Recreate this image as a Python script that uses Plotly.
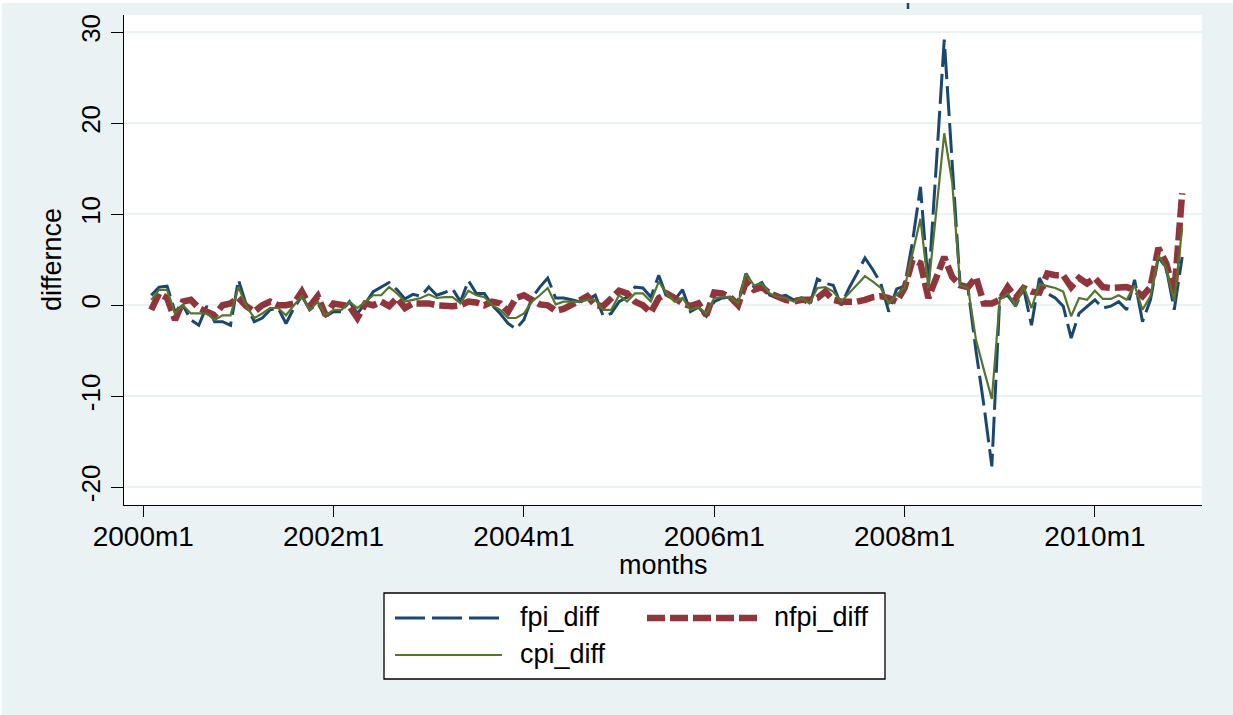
import plotly.graph_objects as go

# Monthly differences, 2000m2 .. 2010m12 (Stata %tm: 2000m1 = 480)
start_tm = 481
fpi_diff = [
    1.1, 2.0, 2.1, -0.7, 0.0, -1.6, -2.2, -0.1, -1.8, -1.8, -2.2,
    2.8, 0.0, -1.8, -1.4, -0.5, -0.3, -2.0, -0.3, 1.0, -0.5, 0.2, -1.2,
    -0.7, -0.7, 0.4, -0.9, 0.2, 1.5, 2.0, 2.5, 1.7, 0.7, 1.2, 1.0,
    2.0, 1.1, 1.4, 1.8, 0.4, 2.7, 1.3, 1.3, 0.0, -0.9, -2.0, -2.6,
    -1.6, 0.8, 2.0, 3.0, 0.8, 0.8, 0.6, 0.4, 0.6, 1.1, -1.2, -0.9,
    0.4, 0.9, 2.0, 1.9, 0.9, 3.3, 0.9, 0.6, 1.7, -0.7, -0.2, -1.2,
    0.4, 0.8, 0.9, 0.2, 3.5, 2.0, 2.5, 1.1, 0.9, 1.1, 0.6, 0.8,
    -0.1, 2.9, 2.4, 2.2, 0.0, 1.9, 3.5, 5.2, 3.9, 2.4, -0.7, 1.8,
    2.1, 7.0, 13.0, 2.1, 15.5, 29.2, 15.6, 2.2, 1.8, -5.0, -11.0, -17.7,
    0.8, 1.1, -0.1, 1.9, -2.2, 3.0, 1.3, 0.8, -0.1, -3.6, -0.9, -0.1,
    0.6, -0.3, -0.1, 0.4, -0.5, 2.8, -1.8, 0.6, 5.3, 4.1, -0.5, 5.3,
]
nfpi_diff = [
    -0.5, 1.3, 0.8, -1.6, 0.4, 0.6, -0.3, -0.7, -1.1, 0.0, 0.2,
    0.8, -0.1, -0.7, 0.0, 0.4, 0.0, 0.0, 0.2, 1.5, -0.1, 1.0, -1.1,
    0.2, 0.0, -0.1, -1.4, 0.2, 0.0, 0.4, -0.1, 0.8, -0.3, 0.2, 0.2,
    0.2, 0.0, -0.1, -0.1, 0.0, 0.4, 0.3, 0.0, 0.4, 0.2, -0.7, 0.8,
    1.1, 0.5, 0.1, 0.0, -0.6, -0.4, 0.0, 0.5, 1.0, 0.0, -0.1, 0.8,
    1.6, 1.3, 0.4, 0.0, -0.8, 0.8, 1.3, 0.8, 0.2, -0.1, 0.2, -1.1,
    1.4, 1.3, 0.9, 0.0, 2.6, 1.7, 2.0, 1.3, 0.9, 0.6, 0.4, 0.6,
    0.6, 0.8, 1.5, 0.6, 0.4, 0.4, 0.4, 0.6, 0.9, 1.0, 0.8, 0.4,
    1.9, 5.0, 4.6, 0.8, 3.2, 5.3, 3.1, 2.2, 2.0, 3.1, 0.2, 0.2,
    0.6, 2.0, 0.8, 1.9, 1.5, 1.4, 3.5, 3.3, 3.3, 2.0, 3.0, 2.4,
    3.0, 2.0, 1.9, 1.9, 2.0, 1.7, 1.0, 2.0, 6.3, 4.6, 1.3, 12.3,
]
cpi_diff = [
    0.6, 1.7, 1.7, -0.9, 0.0, -0.9, -0.9, -0.9, -1.6, -1.1, -1.1,
    2.0, -0.1, -1.4, -0.9, -0.3, -0.3, -1.1, 0.0, 1.0, -0.5, 0.4, -1.1,
    -0.5, -0.5, 0.4, -0.3, 0.4, 1.1, 1.1, 2.0, 1.3, 0.4, 0.6, 0.8,
    1.2, 0.8, 0.9, 0.9, 0.2, 1.6, 1.1, 0.9, 0.0, -0.5, -1.4, -1.4,
    -0.9, 0.4, 1.1, 1.9, 0.1, 0.4, 0.4, 0.4, 0.6, 0.6, -0.5, -0.5,
    1.1, 0.4, 1.3, 1.3, 0.4, 2.6, 1.3, 0.4, 0.8, -0.5, -0.2, -0.9,
    0.8, 0.9, 0.9, 0.2, 3.5, 2.2, 2.4, 1.3, 0.9, 0.8, 0.4, 0.8,
    0.2, 1.9, 2.0, 1.5, 0.4, 1.3, 2.2, 3.2, 2.6, 1.9, 0.2, 1.2,
    1.9, 5.7, 9.5, 1.9, 10.5, 18.9, 13.5, 2.2, 1.9, -3.8, -7.1, -10.3,
    0.6, 1.3, -0.1, 2.1, -0.3, 2.3, 2.1, 1.9, 1.5, -1.2, 0.8, 0.6,
    1.6, 0.7, 0.7, 1.1, 0.6, 2.2, -0.5, 1.0, 5.5, 4.1, 0.4, 8.5,
]

months_tm = list(range(start_tm, start_tm + len(fpi_diff)))
month_labels = [f"{1960 + m // 12}m{m % 12 + 1}" for m in months_tm]

x_tickvals = [480, 504, 528, 552, 576, 600]
x_ticktext = ["2000m1", "2002m1", "2004m1", "2006m1", "2008m1", "2010m1"]
y_tickvals = [-20, -10, 0, 10, 20, 30]
y_ticktext = ["-20", "-10", "0", "10", "20", "30"]

NAVY = "#1A476F"
MAROON = "#90353B"
FOREST = "#55752F"
BG = "#EAF2F3"
FONT = "Liberation Sans, Arial, sans-serif"

W, H = 1233, 715
L, R, T, B = 124, 1202, 15, 505   # plot area in pixels


def px(xp):
    return (xp - L) / (R - L)


def py(yp):
    return (B - yp) / (B - T)


series = [
    ("fpi_diff", fpi_diff, dict(color=NAVY, width=3, dash="30px,7px")),
    ("nfpi_diff", nfpi_diff, dict(color=MAROON, width=6.5, dash="18px,5px")),
    ("cpi_diff", cpi_diff, dict(color=FOREST, width=2.2)),
]

fig = go.Figure()
for name, vals, line in series:
    fig.add_trace(go.Scatter(
        x=months_tm, y=vals, mode="lines", name=name, line=line,
        customdata=month_labels,
        hovertemplate="%{customdata}: %{y}<extra>" + name + "</extra>",
        showlegend=False,
    ))

shapes = [
    # thin white frame along the top and left page edges
    dict(type="rect", xref="paper", yref="paper", x0=px(0), x1=px(W), y0=py(0), y1=py(3),
         fillcolor="white", line_width=0, layer="below"),
    dict(type="rect", xref="paper", yref="paper", x0=px(0), x1=px(2), y0=py(0), y1=py(H),
         fillcolor="white", line_width=0, layer="below"),
    # small stray tick above the plot region
    dict(type="line", xref="paper", yref="paper", x0=px(908), x1=px(908), y0=py(3), y1=py(9),
         line=dict(color=NAVY, width=2.5)),
    # legend box
    dict(type="rect", xref="paper", yref="paper", x0=px(384), x1=px(885), y0=py(679), y1=py(593),
         fillcolor="white", line=dict(color="black", width=1.3)),
]

# legend keys and labels
legend_rows = [
    ("fpi_diff", series[0][2], 395, 502, 518, 618),
    ("nfpi_diff", series[1][2], 647, 758, 772, 618),
    ("cpi_diff", series[2][2], 395, 502, 518, 655),
]
annotations = []
for label, line, x0, x1, xt, yy in legend_rows:
    shapes.append(dict(type="line", xref="paper", yref="paper", x0=px(x0), x1=px(x1),
                       y0=py(yy), y1=py(yy), line=line))
    annotations.append(dict(text=label, xref="paper", yref="paper", x=px(xt), y=py(yy - 1),
                            xanchor="left", yanchor="middle", showarrow=False,
                            font=dict(family=FONT, size=27, color="black")))

annotations += [
    dict(text="differnce", xref="paper", yref="paper", x=px(52), y=py(260), textangle=-90,
         xanchor="center", yanchor="middle", showarrow=False,
         font=dict(family=FONT, size=27, color="black")),
    dict(text="months", xref="paper", yref="paper", x=px(663), y=py(565),
         xanchor="center", yanchor="middle", showarrow=False,
         font=dict(family=FONT, size=27, color="black")),
]

fig.update_layout(
    width=W, height=H,
    margin=dict(l=L, r=W - R, t=T, b=H - B, pad=0),
    paper_bgcolor=BG, plot_bgcolor="white",
    shapes=shapes, annotations=annotations,
    showlegend=False,
    xaxis=dict(range=[477.57, 613.5], tickvals=x_tickvals, ticktext=x_ticktext,
               showgrid=False, zeroline=False, showline=True, linecolor="black", linewidth=1.3,
               ticks="outside", ticklen=11, tickwidth=1.3, tickcolor="black",
               ticklabelstandoff=-5,
               tickfont=dict(family=FONT, size=28, color="black")),
    yaxis=dict(range=[-21.95, 31.9], tickvals=y_tickvals, ticktext=y_ticktext, tickangle=-90,
               showgrid=True, gridcolor=BG, gridwidth=2, zeroline=False,
               showline=True, linecolor="black", linewidth=1.3,
               ticks="outside", ticklen=12, tickwidth=1.3, tickcolor="black",
               tickfont=dict(family=FONT, size=26, color="black")),
)

fig.write_html("out.html")
